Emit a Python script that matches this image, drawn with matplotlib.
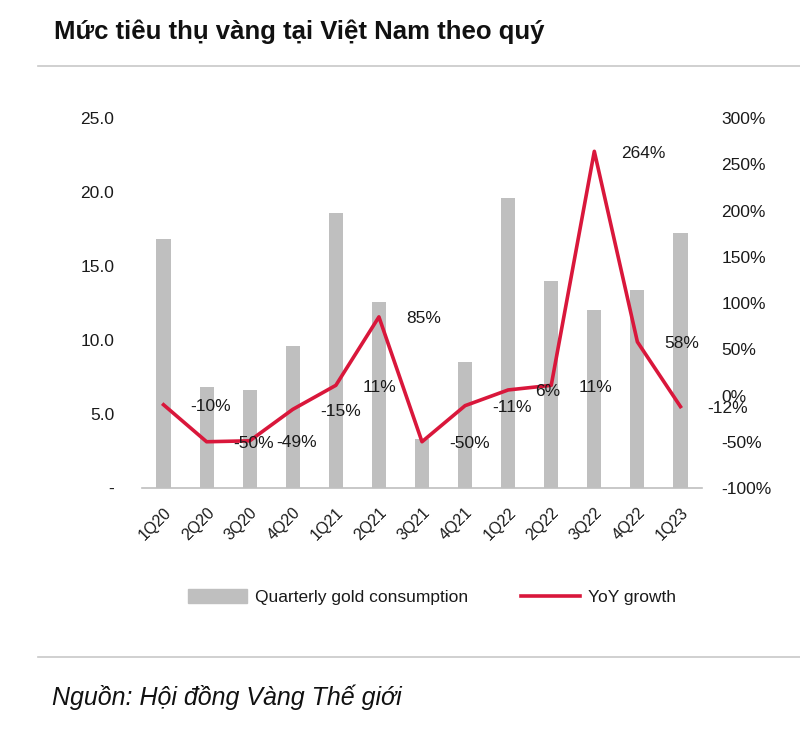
import numpy as np
import matplotlib
matplotlib.use('Agg')
from matplotlib import pyplot as plt
from matplotlib.ticker import FuncFormatter
from matplotlib.patches import Patch
from matplotlib.lines import Line2D

quarters = ['1Q20', '2Q20', '3Q20', '4Q20', '1Q21', '2Q21', '3Q21',
            '4Q21', '1Q22', '2Q22', '3Q22', '4Q22', '1Q23']
consumption = [16.8, 6.8, 6.6, 9.6, 18.6, 12.6, 3.3,
               8.5, 19.6, 14.0, 12.0, 13.4, 17.2]
yoy_growth = [-10, -50, -49, -15, 11, 85, -50,
              -11, 6, 11, 264, 58, -12]

plt.rcParams['font.family'] = ['Liberation Sans', 'DejaVu Sans']

BAR_GREY = '#bfbfbf'
RED = '#d9173b'
TEXT = '#1a1a1a'


def main():
    fig = plt.figure(figsize=(8.0, 7.29), dpi=100)
    ax = fig.add_axes([0.1775, 0.3306, 0.70, 0.5075])
    ax2 = ax.twinx()

    x = np.arange(len(quarters))
    ax.bar(x, consumption, width=0.33, color=BAR_GREY, zorder=1)
    ax.set_xlim(-0.5, len(quarters) - 0.5)
    ax.set_ylim(0, 25)
    ax.set_yticks([0, 5, 10, 15, 20, 25])
    ax.yaxis.set_major_formatter(FuncFormatter(lambda v, p: '-' if v == 0 else f'{v:.1f}'))

    ax2.plot(x, yoy_growth, color=RED, lw=2.6, zorder=3)
    ax2.set_ylim(-100, 300)
    ax2.set_yticks(np.arange(-100, 301, 50))
    ax2.yaxis.set_major_formatter(FuncFormatter(lambda v, p: f'{v:.0f}%'))

    # nhãn % đặt lệch sang phải điểm, như bản gốc
    for xi, g in zip(x, yoy_growth):
        ax2.annotate(f'{g}%', (xi, g), xytext=(27, -2), textcoords='offset pixels',
                     ha='left', va='center', fontsize=12.5, color=TEXT)

    for a in (ax, ax2):
        for s in a.spines.values():
            s.set_visible(False)
        a.tick_params(length=0, labelsize=12.5, labelcolor=TEXT)
    ax.spines['bottom'].set_visible(True)
    ax.spines['bottom'].set_color('#bfbfbf')
    ax.spines['bottom'].set_linewidth(1.2)
    ax.tick_params(axis='y', pad=20)
    ax2.tick_params(axis='y', pad=14)

    ax.set_xticks(x)
    ax.set_xticklabels(quarters, rotation=45, ha='right', rotation_mode='anchor',
                       fontsize=11.5)
    ax.tick_params(axis='x', pad=12)

    handles = [Patch(color=BAR_GREY), Line2D([0], [0], color=RED, lw=2.6)]
    fig.legend(handles, ['Quarterly gold consumption', 'YoY growth'],
               loc='center', bbox_to_anchor=(0.54, 0.181), ncol=2, frameon=False,
               fontsize=12.5, handlelength=3.4, handleheight=0.9, columnspacing=3.0,
               handletextpad=0.5, labelcolor=TEXT)

    fig.text(0.068, 0.957, 'Mức tiêu thụ vàng tại Việt Nam theo quý', fontsize=18.5,
             fontweight='bold', va='center', color='#111111')
    fig.add_artist(Line2D([0.047, 1.0], [0.909, 0.909], color='#c8c8c8', lw=1.2))
    fig.add_artist(Line2D([0.047, 1.0], [0.099, 0.099], color='#c8c8c8', lw=1.2))
    fig.text(0.065, 0.044, 'Nguồn: Hội đồng Vàng Thế giới', fontsize=18,
             style='italic', va='center', color='#111111')

    fig.savefig('out.png', dpi=100)


if __name__ == '__main__':
    main()
